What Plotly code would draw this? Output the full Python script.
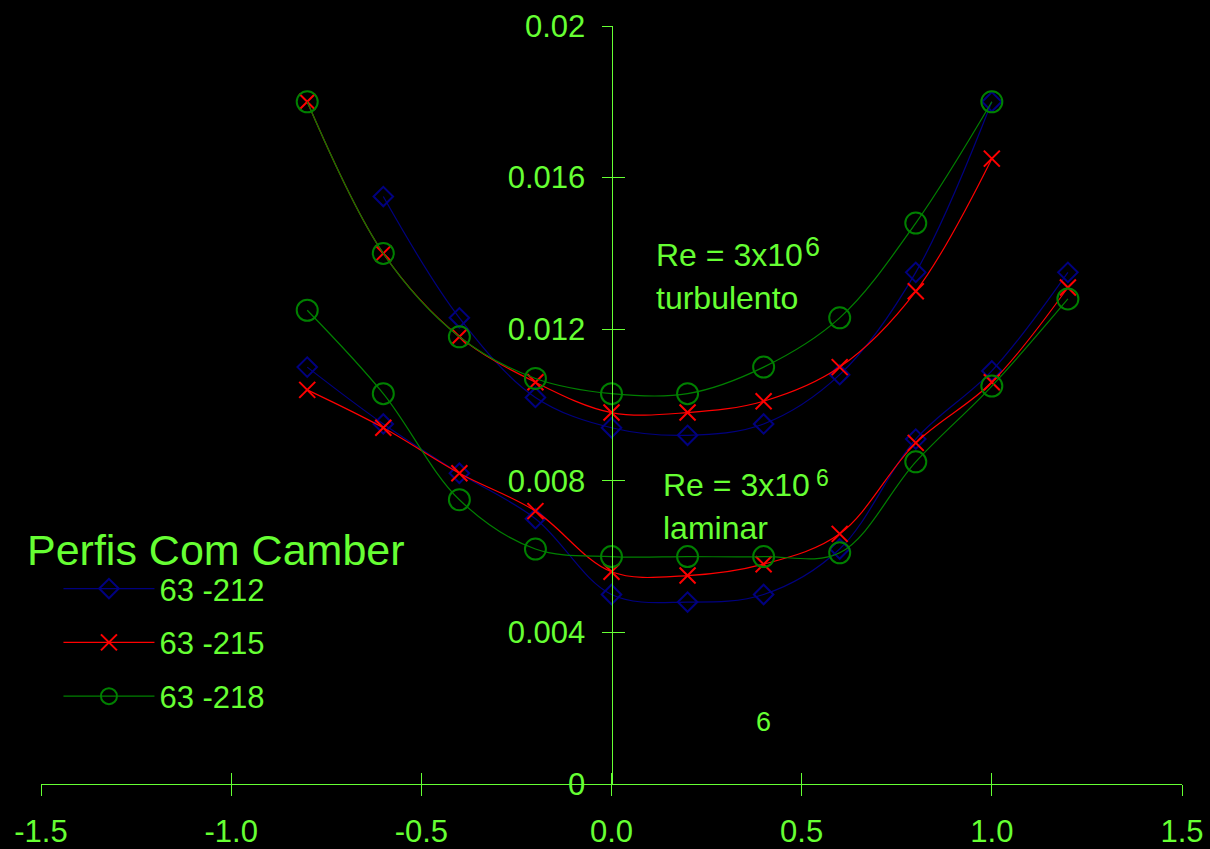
import plotly.graph_objects as go

# Drag coefficient vs lift coefficient for cambered NACA 63-series sections
x_turb_212 = [-0.6, -0.4, -0.2, 0.0, 0.2, 0.4, 0.6, 0.8, 1.0]
x_turb = [-0.8, -0.6, -0.4, -0.2, 0.0, 0.2, 0.4, 0.6, 0.8, 1.0]
x_lam = [-0.8, -0.6, -0.4, -0.2, 0.0, 0.2, 0.4, 0.6, 0.8, 1.0, 1.2]

cd_212_turb = [0.0155, 0.0123, 0.0102, 0.0094, 0.0092, 0.0095, 0.0108, 0.0135, 0.0180]
cd_215_turb = [0.0180, 0.0140, 0.0118, 0.0106, 0.0098, 0.0098, 0.0101, 0.0110, 0.0130, 0.0165]
cd_218_turb = [0.0180, 0.0140, 0.0118, 0.0107, 0.0103, 0.0103, 0.0110, 0.0123, 0.0148, 0.0180]

cd_212_lam = [0.0110, 0.0095, 0.0082, 0.0070, 0.0050, 0.0048, 0.0050, 0.0062, 0.0091, 0.0109, 0.0135]
cd_215_lam = [0.0104, 0.0094, 0.0082, 0.0072, 0.0056, 0.0055, 0.0058, 0.0066, 0.0090, 0.0106, 0.0131]
cd_218_lam = [0.0125, 0.0103, 0.0075, 0.0062, 0.0060, 0.0060, 0.0060, 0.0061, 0.0085, 0.0105, 0.0128]

series_names = ["63 -212", "63 -215", "63 -218"]
x_ticks = [-1.5, -1.0, -0.5, 0.0, 0.5, 1.0, 1.5]
x_tick_text = ["-1.5", "-1.0", "-0.5", "0.0", "0.5", "1.0", "1.5"]
y_ticks = [0, 0.004, 0.008, 0.012, 0.016, 0.02]
y_tick_text = ["0", "0.004", "0.008", "0.012", "0.016", "0.02"]

FG = "#66ff33"
FONT = "Liberation Sans, Arial, sans-serif"

styles = [
    dict(color="#000080", symbol="diamond-open", size=15),
    dict(color="#ff0000", symbol="x-thin-open", size=16),
    dict(color="#008000", symbol="circle-open", size=21),
]
curves = [
    (x_turb_212, cd_212_turb, x_lam, cd_212_lam),
    (x_turb, cd_215_turb, x_lam, cd_215_lam),
    (x_turb, cd_218_turb, x_lam, cd_218_lam),
]

fig = go.Figure()
for i, (name, st, (xt, yt, xl, yl)) in enumerate(zip(series_names, styles, curves)):
    for j, (xs, ys) in enumerate([(xt, yt), (xl, yl)]):
        fig.add_trace(go.Scatter(
            x=xs, y=ys, name=name, mode="lines+markers",
            legendgroup=name, showlegend=(j == 0),
            line=dict(color=st["color"], width=1.2, shape="spline", smoothing=1),
            marker=dict(symbol=st["symbol"], size=st["size"], color=st["color"],
                        line=dict(color=st["color"], width=2)),
        ))

axis_font = dict(family=FONT, size=31, color=FG)

fig.update_layout(
    width=1210, height=849,
    paper_bgcolor="black", plot_bgcolor="black",
    margin=dict(l=41, r=28, t=26, b=65, autoexpand=False),
    font=dict(family=FONT, color=FG),
    xaxis=dict(range=[-1.5, 1.5], showgrid=False, zeroline=False,
               showline=True, linecolor=FG, linewidth=1,
               ticks="outside", ticklen=11, tickcolor=FG, tickwidth=1,
               tickvals=x_ticks, ticktext=x_tick_text, tickfont=axis_font,
               ticklabelstandoff=9),
    xaxis2=dict(range=[-1.5, 1.5], overlaying="x", anchor="y", side="bottom",
                showgrid=False, zeroline=False, showline=False,
                ticks="inside", ticklen=11, tickcolor=FG, tickwidth=1,
                tickvals=x_ticks, showticklabels=False),
    yaxis=dict(range=[0, 0.02], anchor="free", position=0.5,
               showgrid=False, zeroline=False,
               showline=True, linecolor=FG, linewidth=1,
               ticks="outside", ticklen=10, tickcolor=FG, tickwidth=1,
               tickvals=y_ticks, ticktext=y_tick_text, tickfont=axis_font,
               ticklabelstandoff=10),
    yaxis2=dict(range=[0, 0.02], overlaying="y", anchor="free", position=0.5,
                side="left", showgrid=False, zeroline=False, showline=False,
                ticks="inside", ticklen=12, tickcolor=FG, tickwidth=1,
                tickvals=y_ticks, showticklabels=False),
    legend=dict(
        x=0.0153, xanchor="left", y=0.293, yanchor="top",
        bgcolor="rgba(0,0,0,0)", borderwidth=0,
        font=dict(family=FONT, size=31, color=FG),
        tracegroupgap=10.5, itemwidth=91,
    ),
    showlegend=True,
)

# Placeholder trace so the overlaid tick axes get drawn
fig.add_trace(go.Scatter(x=[None], y=[None], xaxis="x2", yaxis="y2",
                         showlegend=False, hoverinfo="skip"))

# Legend heading
fig.add_annotation(x=-0.0141, y=0.3085, xref="paper", yref="paper",
                   text="Perfis Com Camber", showarrow=False,
                   xanchor="left", yanchor="middle",
                   font=dict(family=FONT, size=43, color=FG))


def label(x, y, text, size):
    fig.add_annotation(x=x, y=y, xref="x", yref="y", text=text, showarrow=False,
                       xanchor="left", yanchor="middle",
                       font=dict(family=FONT, size=size, color=FG))


label(0.112, 0.01397, "Re = 3x10", 32)
label(0.503, 0.01418, "6", 27)
label(0.112, 0.01282, "turbulento", 32)
label(0.131, 0.00790, "Re = 3x10", 32)
label(0.533, 0.00807, "6", 23)
label(0.131, 0.00676, "laminar", 32)
label(0.375, 0.00164, "6", 27)

fig.write_html("out.html")
